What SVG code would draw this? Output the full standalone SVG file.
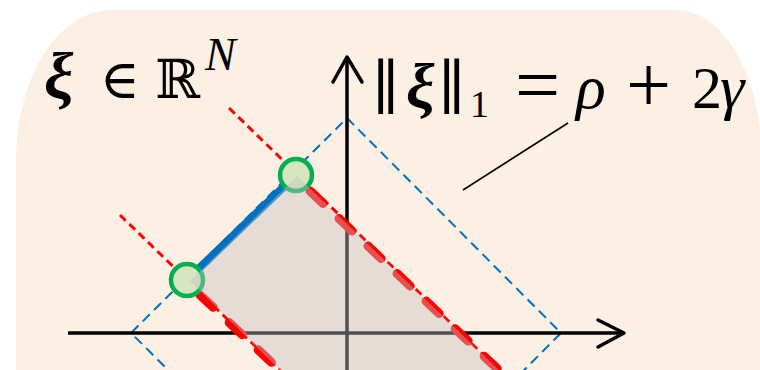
<svg xmlns="http://www.w3.org/2000/svg" width="760" height="370" viewBox="0 0 760 370">
<defs>
<style>
.bg{fill:#fcefe3}
.axis{stroke:#000;stroke-width:3.5;fill:none}
.ah{stroke:#000;stroke-width:3.5;fill:none;stroke-linecap:round;stroke-linejoin:round}
.diam{stroke:#0070c0;stroke-width:2;fill:none;stroke-dasharray:10 6}
.rthin{stroke:#ff0000;stroke-width:3;fill:none;stroke-dasharray:8 5}
.rthick{stroke:#ff0000;stroke-width:9;fill:none;stroke-dasharray:18 22;stroke-linecap:round}
.seg{stroke:#0070c0;stroke-width:8;fill:none}
.pt{fill:#d6e4c0;stroke:#00b050;stroke-width:4.5}
.shade{fill:#c3c3c3;fill-opacity:0.41}
.lead{stroke:#000;stroke-width:1.6;fill:none}
.m{font-family:"Liberation Serif","DejaVu Serif",serif;fill:#000}
.sym{font-family:"DejaVu Serif","Liberation Serif",serif;fill:#000}
</style>
</defs>
<path class="bg" d="M16,160 A95,150 0 0 1 111,10 L677,10 A85,150 0 0 1 762,160 L762,380 L16,380 Z"/>
<g id="diamond"><polygon class="diam" points="347,118 561,333 347,548 131,333"/></g>
<g id="axes">
<line class="axis" x1="68" y1="333" x2="623" y2="333"/>
<polyline class="ah" points="598,320 624,333 598,347"/>
<line class="axis" x1="347" y1="370" x2="347" y2="59"/>
<polyline class="ah" points="333,82 347,57 362,82"/>
</g>
<g id="connectors">
<line class="rthin" x1="229" y1="108" x2="505" y2="376"/>
<line class="rthin" x1="120" y1="215" x2="286" y2="376"/>
<line class="rthick" x1="310" y1="191" x2="505" y2="376"/>
<line class="rthick" x1="200" y1="295" x2="286" y2="376"/>
<line class="seg" x1="187" y1="280" x2="296" y2="175"/>
<line class="lead" x1="568" y1="123" x2="463" y2="190"/>
</g>
<g id="pointA"><circle class="pt" cx="296" cy="175" r="16"/></g>
<g id="pointB"><circle class="pt" cx="187" cy="280" r="16"/></g>
<g id="region"><polygon class="shade" points="190,281 297,176 505,376 286,376"/></g>
<g id="label-space">
<text class="m" y="98"><tspan x="44" font-size="66" font-weight="bold" font-style="italic">ξ</tspan><tspan class="sym" x="100" font-size="54">∈</tspan><tspan class="sym" x="155" font-size="54">ℝ</tspan><tspan x="205" y="70" font-size="46" font-style="italic">N</tspan></text>
</g>
<g id="label-norm">
<text class="m" y="108"><tspan class="sym" x="372" font-size="60">∥</tspan><tspan x="406" font-size="64" font-weight="bold" font-style="italic">ξ</tspan><tspan class="sym" x="438" font-size="60">∥</tspan><tspan x="470" y="117" font-size="38">1</tspan><tspan x="515" y="112" font-size="80">=</tspan><tspan x="576" y="108" font-size="62" font-style="italic">ρ</tspan><tspan x="626" y="112" font-size="80">+</tspan><tspan x="692" y="108" font-size="60">2</tspan><tspan x="720" font-size="62" font-style="italic">γ</tspan></text>
</g>
</svg>
